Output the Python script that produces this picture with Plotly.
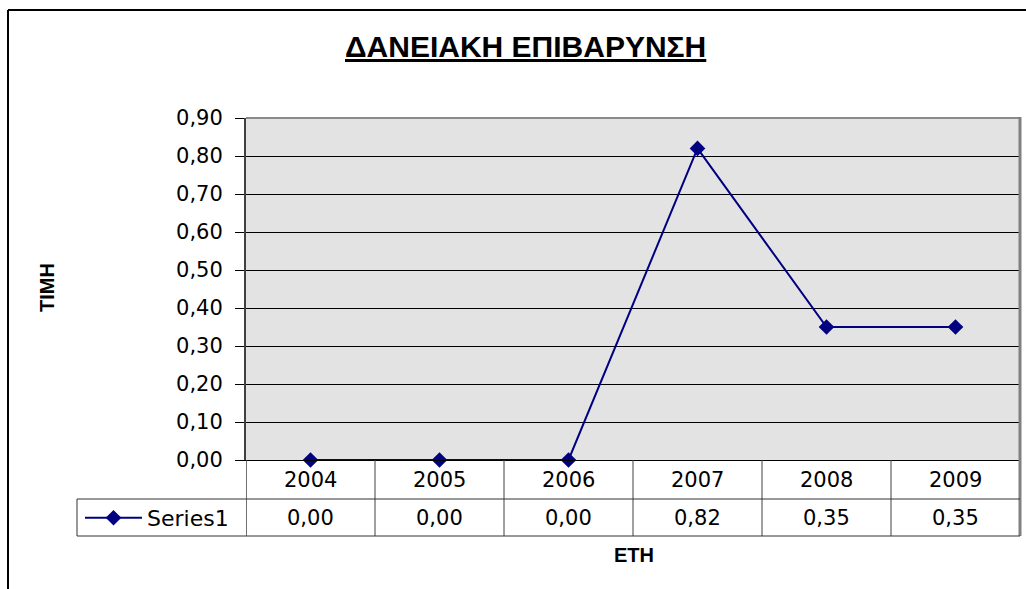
import plotly.graph_objects as go

# ---- data ----
years = ["2004", "2005", "2006", "2007", "2008", "2009"]
values = [0.00, 0.00, 0.00, 0.82, 0.35, 0.35]
series_name = "Series1"
title_text = "ΔΑΝΕΙΑΚΗ ΕΠΙΒΑΡΥΝΣΗ"
x_title = "ΕΤΗ"
y_title = "ΤΙΜΗ"

W, H = 1026, 589
def px(x):
    return x / W
def py(y):
    return 1 - y / H

FONT = "Arial, Liberation Sans, sans-serif"
NUMFONT = "DejaVu Sans, Arial, sans-serif"
NAVY = "#000080"

fig = go.Figure()
fig.add_trace(go.Scatter(
    x=years, y=values, mode="lines+markers", name=series_name,
    line=dict(color=NAVY, width=2),
    marker=dict(symbol="diamond", size=12, color=NAVY),
    cliponaxis=False,
))

# plot area geometry (window pixels)
L, R, T, B = 246, 1020, 118, 460
ROW1, ROW2 = 499, 536
LEG_L = 77

fig.update_layout(
    width=W, height=H, autosize=False,
    margin=dict(l=0, r=0, t=0, b=0, pad=0),
    paper_bgcolor="white", plot_bgcolor="#E3E3E3",
    separators=", ",
    font=dict(family=FONT, color="black", size=22),
    showlegend=True,
    legend=dict(x=px(80), y=py(518), xanchor="left", yanchor="middle",
                bgcolor="rgba(0,0,0,0)", font=dict(size=22, family=NUMFONT),
                itemwidth=57),
    xaxis=dict(domain=[px(L), px(R)], type="category", range=[-0.5, 5.5],
               showticklabels=False, showgrid=False, zeroline=False,
               showline=True, linecolor="black", linewidth=1, ticks="",
               automargin=False),
    yaxis=dict(domain=[py(B), py(T)], range=[0, 0.9], dtick=0.1,
               tickformat=".2f", showgrid=True, gridcolor="black", gridwidth=1,
               ticks="outside", ticklen=9, tickcolor="black", tickwidth=1,
               showline=True, linecolor="#404040", linewidth=2, zeroline=False,
               ticklabelstandoff=8, automargin=False,
               tickfont=dict(size=21, family=NUMFONT)),
)

shapes = []
# plot area top border (gray)
shapes.append(dict(type="line", xref="paper", yref="paper",
                   x0=px(L), x1=px(R), y0=py(T), y1=py(T),
                   line=dict(color="#8a8a8a", width=2)))
# right border of plot + table
shapes.append(dict(type="line", xref="paper", yref="paper",
                   x0=px(R), x1=px(R), y0=py(T - 1), y1=py(ROW2),
                   line=dict(color="#808080", width=3)))
# table column boundaries (tied to category axis)
for k in range(len(years)):
    shapes.append(dict(type="line", xref="x", yref="paper",
                       x0=k - 0.5, x1=k - 0.5, y0=py(B), y1=py(ROW2),
                       line=dict(color="#404040", width=1.5 if k == 0 else 1)))
# table horizontal lines
shapes.append(dict(type="line", xref="paper", yref="paper",
                   x0=px(LEG_L), x1=px(R), y0=py(ROW1), y1=py(ROW1),
                   line=dict(color="#333333", width=1)))
shapes.append(dict(type="line", xref="paper", yref="paper",
                   x0=px(LEG_L), x1=px(R), y0=py(ROW2), y1=py(ROW2),
                   line=dict(color="#333333", width=1)))
# legend cell left edge
shapes.append(dict(type="line", xref="paper", yref="paper",
                   x0=px(LEG_L), x1=px(LEG_L), y0=py(ROW1), y1=py(ROW2),
                   line=dict(color="#333333", width=1)))
# outer chart frame
shapes.append(dict(type="line", xref="paper", yref="paper",
                   x0=px(8), x1=px(8), y0=py(10), y1=0,
                   line=dict(color="black", width=2)))
shapes.append(dict(type="line", xref="paper", yref="paper",
                   x0=px(8), x1=1, y0=py(10), y1=py(10),
                   line=dict(color="black", width=2)))
fig.update_layout(shapes=shapes)

ann = []
for i, (yr, v) in enumerate(zip(years, values)):
    ann.append(dict(x=i, xref="x", y=py((B + ROW1) / 2), yref="paper",
                    text=yr, showarrow=False, font=dict(size=21, family=NUMFONT),
                    xanchor="center", yanchor="middle"))
    ann.append(dict(x=i, xref="x", y=py((ROW1 + ROW2) / 2), yref="paper",
                    text=f"{v:.2f}".replace(".", ","), showarrow=False,
                    font=dict(size=21, family=NUMFONT),
                    xanchor="center", yanchor="middle"))
ann.append(dict(x=px(525), y=py(47), xref="paper", yref="paper",
                text=f"<b><u>{title_text}</u></b>", showarrow=False,
                font=dict(size=30, family=FONT), xanchor="center", yanchor="middle"))
ann.append(dict(x=px(634), y=py(555), xref="paper", yref="paper",
                text=f"<b>{x_title}</b>", showarrow=False,
                font=dict(size=20, family=FONT), xanchor="center", yanchor="middle"))
ann.append(dict(x=px(47), y=py(288), xref="paper", yref="paper",
                text=f"<b>{y_title}</b>", showarrow=False, textangle=-90,
                font=dict(size=20, family=FONT), xanchor="center", yanchor="middle"))
fig.update_layout(annotations=ann)

# remove the browser's default page margin so the figure fills the window exactly
fig.write_html("out.html",
               config={"displayModeBar": False},
               post_script="document.body.style.margin='0';"
                           "document.documentElement.style.overflow='hidden';")
